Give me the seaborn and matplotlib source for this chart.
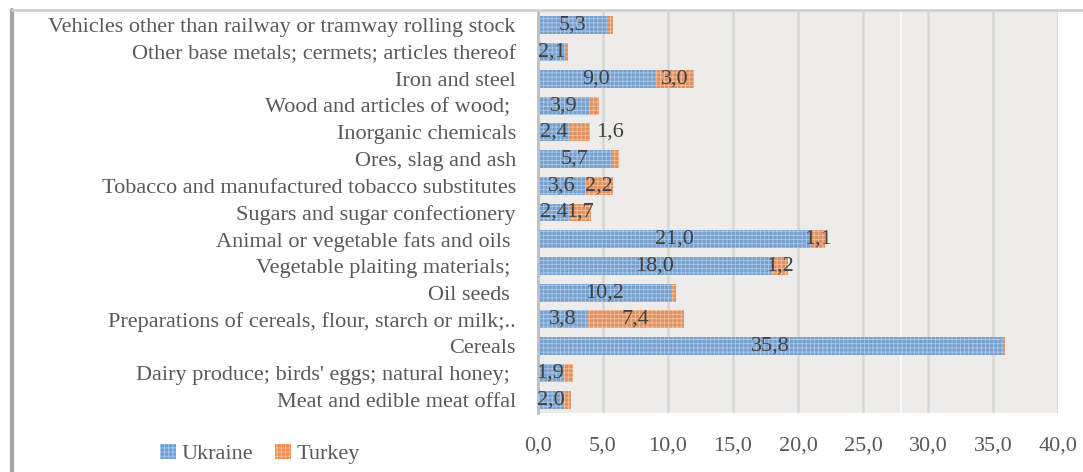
import matplotlib
matplotlib.use("Agg")
import matplotlib.pyplot as plt
import seaborn as sns
import pandas as pd
from matplotlib.patches import Patch
from matplotlib.lines import Line2D

categories = [
    "Vehicles other than railway or tramway rolling stock",
    "Other base metals; cermets; articles thereof",
    "Iron and steel",
    "Wood and articles of wood; ",
    "Inorganic chemicals",
    "Ores, slag and ash",
    "Tobacco and manufactured tobacco substitutes",
    "Sugars and sugar confectionery",
    "Animal or vegetable fats and oils ",
    "Vegetable plaiting materials; ",
    "Oil seeds ",
    "Preparations of cereals, flour, starch or milk;..",
    "Cereals",
    "Dairy produce; birds' eggs; natural honey; ",
    "Meat and edible meat offal",
]
ukraine = [5.3, 2.1, 9.0, 3.9, 2.4, 5.7, 3.6, 2.4, 21.0, 18.0, 10.2, 3.8, 35.8, 1.9, 2.0]
turkey = [0.5, 0.2, 3.0, 0.8, 1.6, 0.5, 2.2, 1.7, 1.1, 1.2, 0.4, 7.4, 0.1, 0.8, 0.5]
x_ticks = [0, 5, 10, 15, 20, 25, 30, 35, 40]

df = pd.DataFrame({"cat": categories, "Ukraine": ukraine, "Turkey": turkey})
df["Total"] = df["Ukraine"] + df["Turkey"]

sns.set_theme(style="white")
plt.rcParams["font.family"] = ["Liberation Serif", "DejaVu Serif"]
plt.rcParams["hatch.linewidth"] = 0.6

FS = 16
text_col = "#595959"
blue = "#6A9FD8"
blue_h = "#A9C9EC"
orange = "#F08C4E"
orange_h = "#F7BE98"

fig = plt.figure(figsize=(10.83, 4.72), dpi=100)
ax = fig.add_axes([538 / 1083, 1 - 413 / 472, (1058 - 538) / 1083, (413 - 12) / 472])
ax.set_facecolor("#EDECEA")

sns.barplot(data=df, x="Total", y="cat", order=categories, color=orange,
            width=0.67, ax=ax, orient="h", edgecolor=orange_h, linewidth=0,
            hatch="++++", zorder=3)
sns.barplot(data=df, x="Ukraine", y="cat", order=categories, color=blue,
            width=0.67, ax=ax, orient="h", edgecolor=blue_h, linewidth=0,
            hatch="++++", zorder=4)
for p in ax.patches:
    p.set_linewidth(0)

ax.set_xlim(0, 40)
ax.set_ylim(len(categories) - 0.5, -0.5)
ax.set_xticks(x_ticks)
ax.set_xticklabels([f"{v:.1f}".replace(".", ",") for v in x_ticks])
ax.tick_params(axis="x", length=0, pad=17, labelsize=FS, labelcolor=text_col)
ax.tick_params(axis="y", length=0, pad=16, labelsize=FS, labelcolor=text_col)
ax.set_xlabel("")
ax.set_ylabel("")
ax.grid(axis="x", color="#D6D6D6", linewidth=1.8, zorder=1)
ax.set_axisbelow(True)
ax.axvline(27.9, color="white", linewidth=1.2, zorder=2)
for s in ["top", "right", "bottom"]:
    ax.spines[s].set_visible(False)
ax.spines["left"].set_color("#BFBFBF")
ax.spines["left"].set_linewidth(2)
ax.spines["left"].set_zorder(6)

for i, (u, t) in enumerate(zip(ukraine, turkey)):
    ax.text(u / 2, i, f"{u:.1f}".replace(".", ","), ha="center", va="center",
            fontsize=FS, color="#404040", zorder=7)
    if t >= 1.0:
        if categories[i] == "Inorganic chemicals":
            ax.text(u + t + 0.45, i, f"{t:.1f}".replace(".", ","), ha="left",
                    va="center", fontsize=FS, color="#404040", zorder=7)
        else:
            ax.text(u + t / 2, i, f"{t:.1f}".replace(".", ","), ha="center",
                    va="center", fontsize=FS, color="#404040", zorder=7)

# frame shadow lines
fig.add_artist(Line2D([12 / 1083, 12 / 1083], [0, 1 - 10 / 472],
                      transform=fig.transFigure, color="#A6A6A6", linewidth=3))
fig.add_artist(Line2D([12 / 1083, 1], [1 - 10 / 472, 1 - 10 / 472],
                      transform=fig.transFigure, color="#D0D0D0", linewidth=2))

handles = [Patch(facecolor=blue, edgecolor=blue_h, hatch="++++", linewidth=0, label="Ukraine"),
           Patch(facecolor=orange, edgecolor=orange_h, hatch="++++", linewidth=0, label="Turkey")]
leg = fig.legend(handles=handles, loc="center left", bbox_to_anchor=(160 / 1083, 1 - 454 / 472),
                 ncol=2, frameon=False, fontsize=FS, handlelength=0.7, handleheight=0.7,
                 handletextpad=0.25, columnspacing=1.0, borderaxespad=0, borderpad=0)
for txt in leg.get_texts():
    txt.set_color(text_col)

fig.savefig("out.png", dpi=100)
